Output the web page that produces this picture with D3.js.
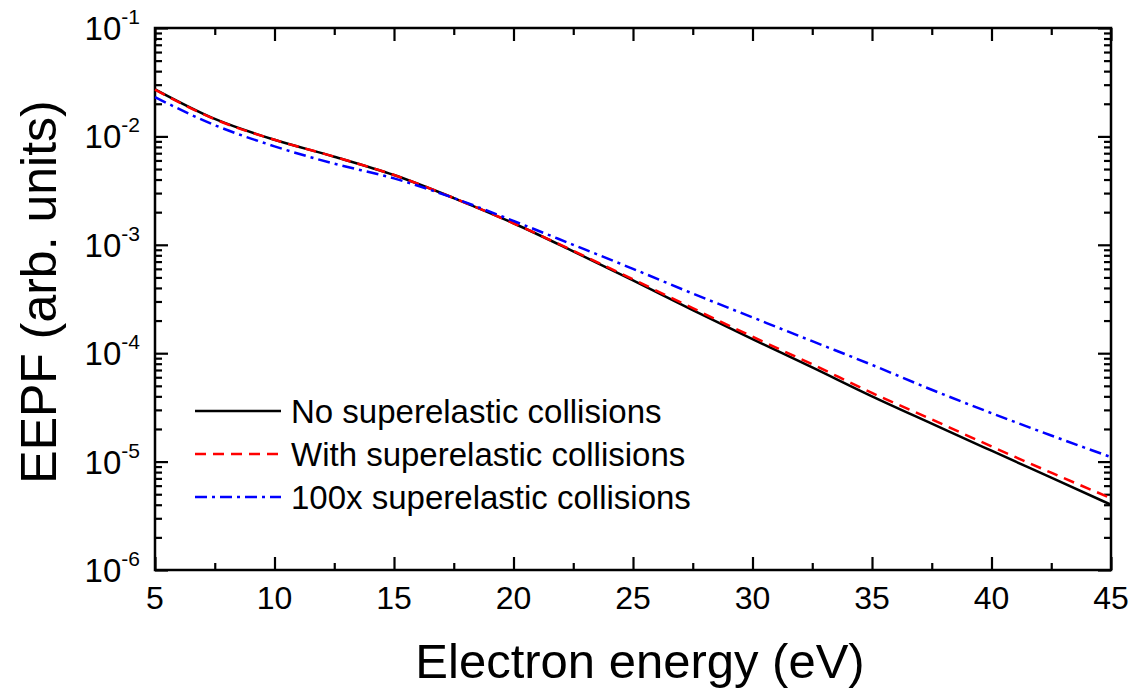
<!DOCTYPE html>
<html>
<head>
<meta charset="utf-8">
<script src="https://d3js.org/d3.v7.min.js"></script>
<style>
  body { margin: 0; background: #fff; }
  svg { font-family: "Liberation Sans", Arial, sans-serif; }
</style>
</head>
<body>
<svg id="svg" width="1137" height="694"></svg>
<script>
// electron energy (eV) where the curves were read
var energy = [5, 7.5, 10, 12.5, 15, 17.5, 20, 22.5, 25, 27.5, 30, 32.5, 35, 37.5, 40, 42.5, 45];

// EEPF values (arb. units)
var noSuper = [0.0272, 0.0145, 9.3e-3, 6.5e-3, 4.4e-3, 2.7e-3, 1.58e-3, 8.7e-4, 4.7e-4, 2.5e-4, 1.35e-4, 7.4e-5, 4.0e-5, 2.24e-5, 1.26e-5, 7.1e-6, 4.0e-6];
var withSuper = [0.0270, 0.0144, 9.3e-3, 6.5e-3, 4.4e-3, 2.7e-3, 1.58e-3, 8.8e-4, 4.8e-4, 2.6e-4, 1.42e-4, 7.9e-5, 4.3e-5, 2.45e-5, 1.38e-5, 7.9e-6, 4.6e-6];
var super100 = [0.023, 0.0127, 8.1e-3, 5.6e-3, 4.1e-3, 2.7e-3, 1.66e-3, 1.0e-3, 6.0e-4, 3.55e-4, 2.14e-4, 1.29e-4, 7.8e-5, 4.6e-5, 2.8e-5, 1.74e-5, 1.1e-5];

var seriesNames = ['No superelastic collisions', 'With superelastic collisions', '100x superelastic collisions'];
var seriesColors = ['#000000', '#ff0000', '#0000ff'];
var seriesDash = ['none', '11,7', '12,5,3,5'];

var xTicks = [5, 10, 15, 20, 25, 30, 35, 40, 45];
var xMinor = [7.5, 12.5, 17.5, 22.5, 27.5, 32.5, 37.5, 42.5];
var yExponents = [-1, -2, -3, -4, -5, -6];

// plot box (note: "top" is reserved on window, so use other names)
var pLeft = 155, pRight = 1111, pTop = 28, pBottom = 570;

var svg = d3.select('svg');

var x = d3.scaleLinear().domain([5, 45]).range([pLeft, pRight]);
var y = d3.scaleLog().domain([1e-6, 1e-1]).range([pBottom, pTop]);

// minor log ticks 2..9 in each decade
var yMinor = [];
for (var e = -6; e < -1; e++) {
    for (var m = 2; m <= 9; m++) yMinor.push(m * Math.pow(10, e));
}
var yMajor = yExponents.map(function (p) { return Math.pow(10, p); });

function drawAxis(gen, tx, ty) {
    var g = svg.append('g').attr('transform', 'translate(' + tx + ',' + ty + ')').call(gen);
    g.selectAll('path').remove();
    g.selectAll('line').attr('stroke', '#000').attr('stroke-width', 2.2);
    g.selectAll('text').remove();
    return g;
}

// ticks point into the plot on all four sides
drawAxis(d3.axisBottom(x).tickValues(xTicks).tickSize(-13), 0, pBottom);
drawAxis(d3.axisBottom(x).tickValues(xMinor).tickSize(-7), 0, pBottom);
drawAxis(d3.axisTop(x).tickValues(xTicks).tickSize(-13), 0, pTop);
drawAxis(d3.axisTop(x).tickValues(xMinor).tickSize(-7), 0, pTop);
drawAxis(d3.axisLeft(y).tickValues(yMajor).tickSize(-13), pLeft, 0);
drawAxis(d3.axisLeft(y).tickValues(yMinor).tickSize(-7), pLeft, 0);
drawAxis(d3.axisRight(y).tickValues(yMajor).tickSize(-13), pRight, 0);
drawAxis(d3.axisRight(y).tickValues(yMinor).tickSize(-7), pRight, 0);

// frame
svg.append('rect')
    .attr('x', pLeft).attr('y', pTop)
    .attr('width', pRight - pLeft).attr('height', pBottom - pTop)
    .attr('fill', 'none').attr('stroke', '#000').attr('stroke-width', 2.5);

// x tick labels
svg.selectAll('.xlab')
    .data(xTicks)
    .enter()
    .append('text')
    .attr('x', function (d) { return x(d); })
    .attr('y', pBottom + 39)
    .attr('text-anchor', 'middle')
    .attr('font-size', 32)
    .text(function (d) { return d; });

// y tick labels as 10^n
var ylab = svg.selectAll('.ylab')
    .data(yExponents)
    .enter()
    .append('text')
    .attr('x', pLeft - 15)
    .attr('y', function (d) { return y(Math.pow(10, d)) + 12; })
    .attr('text-anchor', 'end')
    .attr('font-size', 33);
ylab.append('tspan').text('10');
ylab.append('tspan')
    .attr('font-size', 21)
    .attr('dy', -16)
    .text(function (d) { return '-' + Math.abs(d); });

// axis titles
svg.append('text')
    .attr('x', 640)
    .attr('y', 678)
    .attr('text-anchor', 'middle')
    .attr('font-size', 49)
    .text('Electron energy (eV)');

svg.append('text')
    .attr('transform', 'translate(56,292) rotate(-90)')
    .attr('text-anchor', 'middle')
    .attr('font-size', 50)
    .text('EEPF (arb. units)');

// curves
var line = d3.line()
    .x(function (d) { return x(d[0]); })
    .y(function (d) { return y(d[1]); })
    .curve(d3.curveMonotoneX);

[noSuper, withSuper, super100].forEach(function (vals, i) {
    svg.append('path')
        .datum(energy.map(function (en, j) { return [en, vals[j]]; }))
        .attr('d', line)
        .attr('fill', 'none')
        .attr('stroke', seriesColors[i])
        .attr('stroke-width', 2.5)
        .attr('stroke-dasharray', seriesDash[i]);
});

// legend
var legend = svg.selectAll('.leg')
    .data(seriesNames)
    .enter()
    .append('g')
    .attr('transform', function (d, i) { return 'translate(195,' + (411 + i * 43) + ')'; });

legend.append('line')
    .attr('x1', 0).attr('x2', 86)
    .attr('stroke', function (d, i) { return seriesColors[i]; })
    .attr('stroke-width', 2.5)
    .attr('stroke-dasharray', function (d, i) { return seriesDash[i]; });

legend.append('text')
    .attr('x', 96)
    .attr('y', 12)
    .attr('font-size', 33)
    .text(function (d) { return d; });
</script>
</body>
</html>
